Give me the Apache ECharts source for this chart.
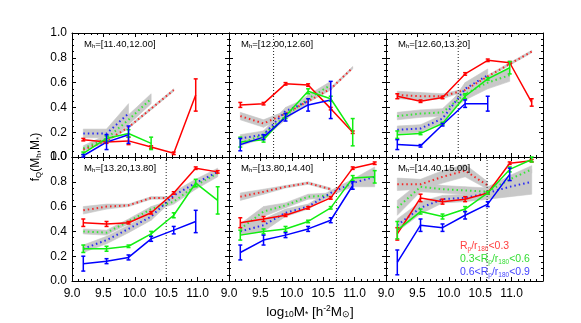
<!DOCTYPE html>
<html>
<head>
<meta charset="utf-8">
<script src="https://cdn.jsdelivr.net/npm/echarts@6/dist/echarts.min.js"></script>
<style>
  html, body { margin: 0; background: #fff; }
  #chart { width: 581px; height: 323px; }
</style>
</head>
<body>
<div id="chart"></div>
<script>
// --- data ---
const logMstar = [9.18, 9.55, 9.90, 10.26, 10.62, 10.97, 11.32];
const haloBins = ['[11.40,12.00]', '[12.00,12.60]', '[12.60,13.20]', '[13.20,13.80]', '[13.80,14.40]', '[14.40,15.00]'];
const massLimit = [null, 9.71, 10.15, 10.50, 10.71, 10.61];
const xTicks = [9.0, 9.5, 10.0, 10.5, 11.0];
const yTicks = [0.0, 0.2, 0.4, 0.6, 0.8, 1.0];

// observed fractions (solid lines + error bars)
const redObs = [
  [0.14, 0.12, 0.13, 0.08, 0.03, 0.50, null],
  [0.42, 0.43, 0.59, 0.58, 0.39, 0.20, null],
  [0.49, 0.45, 0.48, 0.67, 0.78, 0.76, 0.44],
  [0.47, 0.46, 0.47, 0.55, 0.71, 0.91, 0.88],
  [0.47, 0.50, 0.53, 0.59, 0.67, 0.91, 0.95],
  [0.38, 0.67, 0.64, 0.66, 0.71, 0.95, 0.97]
];
const redErr = [
  [0.01, 0.01, 0.03, 0.01, 0.01, 0.13, null],
  [0.02, 0.01, 0.01, 0.01, 0.01, 0.01, null],
  [0.02, 0.01, 0.01, 0.01, 0.01, 0.01, 0.03],
  [0.03, 0.02, 0.01, 0.01, 0.01, 0.01, 0.01],
  [0.04, 0.02, 0.01, 0.01, 0.01, 0.01, 0.01],
  [0.05, 0.03, 0.02, 0.02, 0.01, 0.01, 0.01]
];
const greenObs = [
  [0.03, 0.15, 0.19, 0.11, null, null, null],
  [0.12, 0.14, 0.33, 0.53, 0.47, 0.20, null],
  [0.18, 0.19, 0.27, 0.49, 0.63, 0.72, null],
  [0.26, 0.26, 0.28, 0.38, 0.53, 0.79, 0.65],
  [0.37, 0.40, 0.42, 0.48, 0.59, 0.83, 0.84],
  [0.41, 0.56, 0.52, 0.58, 0.71, 0.90, 0.98]
];
const greenErr = [
  [0.01, 0.02, 0.03, 0.05, null, null, null],
  [0.04, 0.02, 0.02, 0.02, 0.02, 0.11, null],
  [0.03, 0.01, 0.01, 0.02, 0.01, 0.05, null],
  [0.03, 0.02, 0.01, 0.02, 0.02, 0.03, 0.11],
  [0.04, 0.02, 0.02, 0.01, 0.01, 0.02, 0.05],
  [0.07, 0.02, 0.02, 0.02, 0.01, 0.02, 0.02]
];
const blueObs = [
  [0.01, 0.12, 0.18, null, null, null, null],
  [0.10, 0.16, 0.32, 0.42, 0.46, null, null],
  [0.10, 0.09, 0.26, 0.43, 0.43, null, null],
  [0.14, 0.16, 0.19, 0.34, 0.41, 0.48, null],
  [0.23, 0.33, 0.37, 0.42, 0.49, 0.77, null],
  [0.15, 0.45, 0.43, 0.53, 0.62, 0.86, null]
];
const blueErr = [
  [0.01, 0.06, 0.07, null, null, null, null],
  [0.05, 0.02, 0.03, 0.05, 0.15, null, null],
  [0.04, 0.01, 0.01, 0.03, 0.06, null, null],
  [0.06, 0.02, 0.02, 0.02, 0.03, 0.09, null],
  [0.06, 0.04, 0.02, 0.02, 0.02, 0.03, null],
  [0.10, 0.05, 0.03, 0.03, 0.02, 0.05, null]
];

// model predictions (dotted lines + grey bands)
const redModel = [
  [0.06, 0.13, 0.24, 0.39, 0.54, null, null],
  [0.33, 0.27, 0.35, 0.45, 0.55, 0.72, null],
  [0.50, 0.49, 0.49, 0.54, 0.65, 0.75, 0.85],
  [0.57, 0.60, 0.61, 0.67, 0.67, null, null],
  [0.68, 0.72, 0.76, 0.79, 0.74, null, null],
  [0.78, 0.78, 0.84, 0.89, 0.77, null, null]
];
const redBand = [
  [0.01, 0.01, 0.01, 0.01, 0.01, null, null],
  [0.03, 0.03, 0.02, 0.01, 0.01, 0.01, null],
  [0.03, 0.03, 0.02, 0.01, 0.01, 0.01, 0.01],
  [0.03, 0.02, 0.01, 0.01, 0.01, null, null],
  [0.03, 0.02, 0.01, 0.01, 0.01, null, null],
  [0.05, 0.04, 0.05, 0.05, 0.03, null, null]
];
const greenModel = [
  [0.07, 0.15, 0.30, 0.47, null, null, null],
  [0.11, 0.18, 0.33, 0.47, 0.58, null, null],
  [0.33, 0.35, 0.36, 0.51, 0.60, 0.66, null],
  [0.40, 0.39, 0.48, 0.58, 0.64, 0.77, 0.87],
  [0.42, 0.56, 0.61, 0.68, 0.69, null, null],
  [0.59, 0.76, 0.74, 0.73, 0.72, 0.82, 0.90]
];
const greenBand = [
  [0.02, 0.03, 0.04, 0.04, null, null, null],
  [0.02, 0.03, 0.03, 0.03, 0.03, null, null],
  [0.03, 0.03, 0.03, 0.05, 0.05, 0.05, null],
  [0.02, 0.02, 0.02, 0.02, 0.02, 0.03, 0.03],
  [0.04, 0.04, 0.02, 0.02, 0.02, null, null],
  [0.06, 0.04, 0.03, 0.03, 0.03, 0.03, 0.03]
];
const blueModel = [
  [0.19, 0.19, 0.35, null, null, null, null],
  [0.15, 0.18, 0.37, 0.45, null, null, null],
  [0.22, 0.23, 0.31, 0.55, 0.66, null, null],
  [0.26, 0.33, 0.42, 0.52, 0.69, 0.79, 0.88],
  [0.40, 0.45, 0.55, 0.60, 0.71, 0.79, 0.84],
  [0.45, 0.59, 0.66, 0.67, 0.71, 0.76, 0.80]
];
const blueBand = [
  [0.035, 0.035, 0.08, null, null, null, null],
  [0.03, 0.03, 0.03, 0.03, null, null, null],
  [0.03, 0.03, 0.03, 0.05, 0.05, null, null],
  [0.03, 0.03, 0.03, 0.03, 0.03, 0.03, 0.03],
  [0.03, 0.05, 0.03, 0.02, 0.02, 0.03, 0.08],
  [0.05, 0.05, 0.03, 0.03, 0.05, 0.08, 0.10]
];

// --- layout ---
const colLeft = [72, 229, 386];
const rowTop = [33, 157];
const panelW = 157, panelH = 124;
const RED = '#ff0000', GREEN = '#11ee11', BLUE = '#0000ff', GREY = '#c8c8c8';
const FONT = 'Liberation Sans, Helvetica, Arial, sans-serif';

function renderErr(params, api) {
  const x = api.value(0);
  const a = api.coord([x, api.value(1)]), b = api.coord([x, api.value(2)]);
  const c = api.visual('color'), w = 2;
  const st = { stroke: c, lineWidth: 1.5 };
  return { type: 'group', children: [
    { type: 'line', shape: { x1: a[0], y1: a[1], x2: b[0], y2: b[1] }, style: st },
    { type: 'line', shape: { x1: a[0] - w, y1: a[1], x2: a[0] + w, y2: a[1] }, style: st },
    { type: 'line', shape: { x1: b[0] - w, y1: b[1], x2: b[0] + w, y2: b[1] }, style: st }
  ]};
}

function renderBand(params, api) {
  const pts = [
    api.coord([api.value(0), api.value(1)]),
    api.coord([api.value(3), api.value(4)]),
    api.coord([api.value(3), api.value(5)]),
    api.coord([api.value(0), api.value(2)])
  ];
  return { type: 'polygon', shape: { points: pts }, style: { fill: GREY, stroke: GREY, lineWidth: 0.6 } };
}

const pts = vals => logMstar.map((x, i) => [x, vals[i]]).filter(d => d[1] != null);
const errPts = (vals, errs) => logMstar.map((x, i) => vals[i] == null ? null : [x, vals[i] - errs[i], vals[i] + errs[i]]).filter(Boolean);
function bandPts(vals, band) {
  const out = [];
  for (let i = 0; i < logMstar.length - 1; i++) {
    if (vals[i] == null || vals[i + 1] == null) continue;
    out.push([logMstar[i], vals[i] - band[i], vals[i] + band[i],
              logMstar[i + 1], vals[i + 1] - band[i + 1], vals[i + 1] + band[i + 1]]);
  }
  return out;
}

const grids = [], xAxes = [], yAxes = [], series = [], graphics = [];
const tick = { show: true, inside: true, length: 4, lineStyle: { color: '#000', width: 1 } };
const minor = n => ({ show: true, splitNumber: n, length: 2, lineStyle: { color: '#000', width: 1 } });
const axLine = { show: true, onZero: false, lineStyle: { color: '#000', width: 1 } };

haloBins.forEach((bin, p) => {
  const col = p % 3, row = Math.floor(p / 3);
  grids.push({ left: colLeft[col], top: rowTop[row], width: panelW, height: panelH });
  const xBase = { type: 'value', gridIndex: p, min: 9, max: 11.5, interval: 0.5,
    axisLine: axLine, axisTick: tick, minorTick: minor(5), splitLine: { show: false }, minorSplitLine: { show: false } };
  const yBase = { type: 'value', gridIndex: p, min: 0, max: 1, interval: 0.2,
    axisLine: axLine, axisTick: tick, minorTick: minor(4), splitLine: { show: false }, minorSplitLine: { show: false } };
  xAxes.push(Object.assign({}, xBase, { position: 'bottom', axisLabel: {
    show: row === 1, showMaxLabel: false, margin: 7, color: '#000', fontSize: 12, fontFamily: FONT,
    formatter: v => xTicks.includes(v) ? v.toFixed(1) : '' } }));
  xAxes.push(Object.assign({}, xBase, { position: 'top', axisLabel: { show: false } }));
  yAxes.push(Object.assign({}, yBase, { position: 'left', axisLabel: {
    show: col === 0, margin: 5, color: '#000', fontSize: 12, fontFamily: FONT,
    formatter: v => yTicks.includes(v) ? v.toFixed(1) : '' } }));
  yAxes.push(Object.assign({}, yBase, { position: 'right', axisLabel: { show: false } }));

  const ax = { xAxisIndex: 2 * p, yAxisIndex: 2 * p };
  // grey bands
  [[redModel, redBand], [greenModel, greenBand], [blueModel, blueBand]].forEach(([m, b]) => {
    series.push(Object.assign({ type: 'custom', renderItem: renderBand, silent: true,
      encode: { x: [0, 3], y: [1, 2, 4, 5] }, data: bandPts(m[p], b[p]), z: 1 }, ax));
  });
  // model dotted lines
  [[redModel, RED], [greenModel, GREEN], [blueModel, BLUE]].forEach(([m, c]) => {
    series.push(Object.assign({ type: 'line', data: pts(m[p]), showSymbol: false, silent: true, z: 2,
      lineStyle: { color: c, width: 2, type: [1.5, 3], opacity: 0.8 } }, ax));
  });
  // observed solid lines + error bars
  [[redObs, redErr, RED], [greenObs, greenErr, GREEN], [blueObs, blueErr, BLUE]].forEach(([v, e, c]) => {
    series.push(Object.assign({ type: 'line', data: pts(v[p]), showSymbol: false, silent: true, z: 3,
      lineStyle: { color: c, width: 1.5 } }, ax));
    series.push(Object.assign({ type: 'custom', renderItem: renderErr, silent: true, z: 4,
      itemStyle: { color: c }, encode: { x: 0, y: [1, 2] }, data: errPts(v[p], e[p]) }, ax));
  });
  // stellar mass limit
  if (massLimit[p] != null) {
    series.push(Object.assign({ type: 'line', data: [[massLimit[p], 0], [massLimit[p], 1]], showSymbol: false,
      silent: true, z: 2, lineStyle: { color: '#222', width: 1, type: [1, 2] } }, ax));
  }
  // panel label
  graphics.push({ type: 'text', left: colLeft[col] + 12, top: rowTop[row] + 6, z: 10, style: {
    text: '{a|M}{s|h}{a|=' + bin + '}',
    rich: { a: { fontSize: 9.5, fontFamily: FONT, fill: '#000', lineHeight: 11 },
            s: { fontSize: 6, fontFamily: FONT, fill: '#000', lineHeight: 6, verticalAlign: 'bottom' } } } });
});

// legend texts in the last panel
const legendRows = [
  { t: '{a|R}{s|p}{a|/r}{s|180}{a|<0.3}', c: '#ff4040', y: 241 },
  { t: '{a|0.3<R}{s|p}{a|/r}{s|180}{a|<0.6}', c: '#33dd33', y: 254 },
  { t: '{a|0.6<R}{s|p}{a|/r}{s|180}{a|<0.9}', c: '#4444ff', y: 267 }
];
legendRows.forEach(r => {
  graphics.push({ type: 'text', left: 460, top: r.y, z: 10, style: { text: r.t,
    rich: { a: { fontSize: 10.5, fontFamily: FONT, fill: r.c, lineHeight: 12 },
            s: { fontSize: 6.5, fontFamily: FONT, fill: r.c, lineHeight: 7, verticalAlign: 'bottom' } } } });
});

// axis titles
graphics.push({ type: 'text', x: 36, y: 157, rotation: Math.PI / 2, style: {
  text: '{a|f}{s|Q}{a|(M}{s|h}{a|,M}{s|*}{a|)}', align: 'center', verticalAlign: 'middle',
  textAlign: 'center', textVerticalAlign: 'middle',
  rich: { a: { fontSize: 12, fontFamily: FONT, fill: '#000', lineHeight: 14 },
          s: { fontSize: 8, fontFamily: FONT, fill: '#000', lineHeight: 8, verticalAlign: 'bottom' } } } });
graphics.push({ type: 'text', x: 310, y: 312, style: {
  text: '{a|log}{s|10}{a|M}{s|*}{a| [h}{p|-2}{a|M}{s|⊙}{a|]}', align: 'center', verticalAlign: 'middle',
  textAlign: 'center', textVerticalAlign: 'middle',
  rich: { a: { fontSize: 13.5, fontFamily: FONT, fill: '#000', lineHeight: 15 },
          s: { fontSize: 8.5, fontFamily: FONT, fill: '#000', lineHeight: 8, verticalAlign: 'bottom' },
          p: { fontSize: 8.5, fontFamily: FONT, fill: '#000', lineHeight: 8, verticalAlign: 'top' } } } });

const chart = echarts.init(document.getElementById('chart'), null, { renderer: 'canvas' });
chart.setOption({
  animation: false,
  backgroundColor: '#fff',
  grid: grids,
  xAxis: xAxes,
  yAxis: yAxes,
  series: series,
  graphic: graphics
});
</script>
</body>
</html>
